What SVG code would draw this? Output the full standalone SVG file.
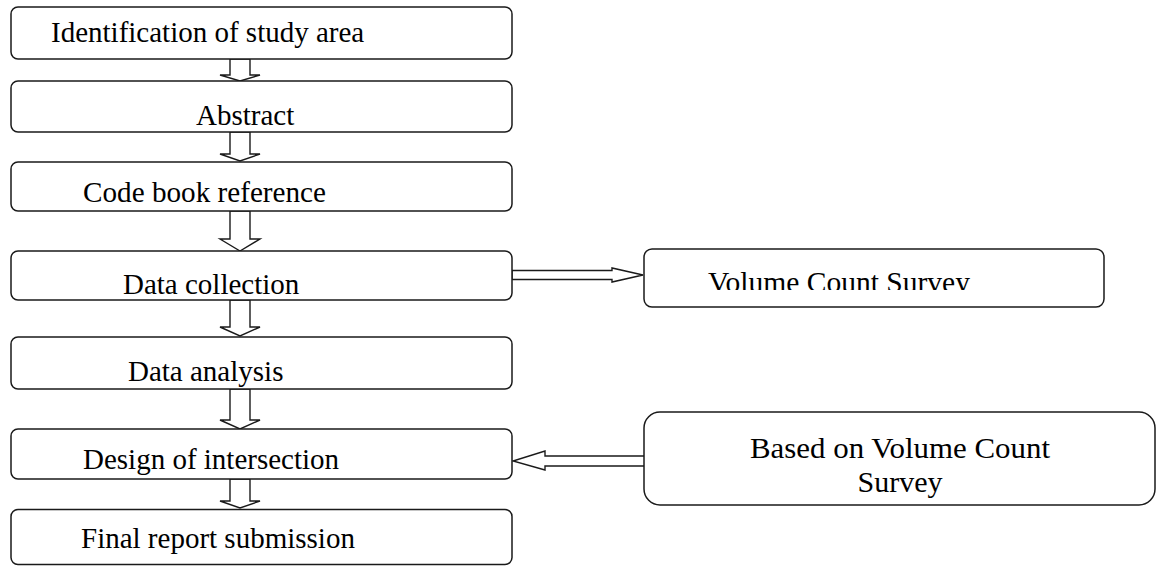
<svg xmlns="http://www.w3.org/2000/svg" width="1157" height="566" viewBox="0 0 1157 566">
<style>
.box{fill:#fff;stroke:#1a1a1a;stroke-width:1.5}
.arr{fill:#fff;stroke:#1a1a1a;stroke-width:1.4;stroke-linejoin:miter}
text{font-family:"Liberation Serif","Times New Roman",serif;font-size:29px;fill:#000}
.big{font-size:30px}
</style>
<defs>
<clipPath id="clipVol"><rect x="644" y="249" width="460" height="41"/></clipPath>
</defs>
<rect width="1157" height="566" fill="#fff"/>
<g id="connectors">
<polygon class="arr" points="230,59 250,59 250,75 260,75 240,81 220,75 230,75"/>
<polygon class="arr" points="230,132 250,132 250,154 260,154 240,161 220,154 230,154"/>
<polygon class="arr" points="230,211 250,211 250,239 260,239 240,251 220,239 230,239"/>
<polygon class="arr" points="230,300 250,300 250,327 260,327 240,336 220,327 230,327"/>
<polygon class="arr" points="230,389 250,389 250,420 260,420 240,429 220,420 230,420"/>
<polygon class="arr" points="230,479 250,479 250,501 260,501 240,508 220,501 230,501"/>
<polygon class="arr" points="512,270.5 612,270.5 612,268 643,275 612,282 612,279.5 512,279.5"/>
<polygon class="arr" points="645,456 545,456 545,451 513,461 545,470 545,466 645,466"/>
</g>
<g id="n1"><rect class="box" x="11" y="7" width="501" height="52" rx="7"/><text x="51" y="42">Identification of study area</text></g>
<g id="n2"><rect class="box" x="11" y="81" width="501" height="51" rx="7"/><text x="196" y="125">Abstract</text></g>
<g id="n3"><rect class="box" x="11" y="162" width="501" height="49" rx="7"/><text x="83" y="202" textLength="243" lengthAdjust="spacingAndGlyphs">Code book reference</text></g>
<g id="n4"><rect class="box" x="11" y="251" width="501" height="49" rx="7"/><text x="123" y="294">Data collection</text></g>
<g id="n5"><rect class="box" x="11" y="337" width="501" height="52" rx="7"/><text x="128" y="381">Data analysis</text></g>
<g id="n6"><rect class="box" x="11" y="429" width="501" height="50" rx="7"/><text x="83" y="469">Design of intersection</text></g>
<g id="n7"><rect class="box" x="11" y="509.5" width="501" height="55" rx="7"/><text x="81" y="548">Final report submission</text></g>
<g id="n8"><rect class="box" x="644" y="249" width="460" height="58" rx="8"/><text x="708" y="292" clip-path="url(#clipVol)" textLength="262" lengthAdjust="spacingAndGlyphs">Volume Count Survey</text></g>
<g id="n9"><rect class="box" x="644" y="412" width="511" height="93" rx="16"/><text class="big" x="750" y="458" textLength="300" lengthAdjust="spacingAndGlyphs">Based on Volume Count</text><text class="big" x="900" y="492" text-anchor="middle">Survey</text></g>
</svg>
